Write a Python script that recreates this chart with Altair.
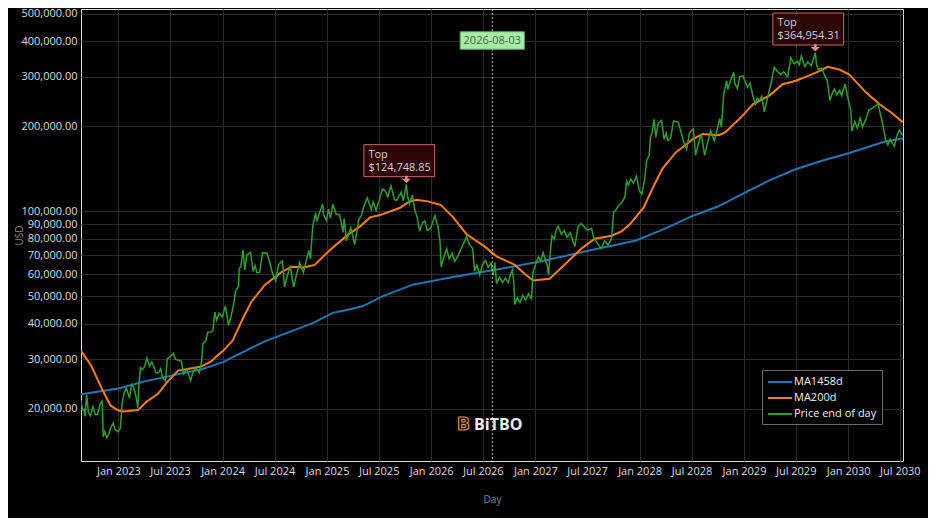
import altair as alt
import pandas as pd

# ---------------- data ----------------
price_2022 = [("2022-08-23", 21400), ("2022-08-28", 19800), ("2022-09-03", 19900), ("2022-09-06", 18800),
              ("2022-09-12", 22400), ("2022-09-18", 19400), ("2022-09-25", 18900), ("2022-10-04", 20300),
              ("2022-10-12", 19100), ("2022-10-20", 19100), ("2022-10-29", 20800), ("2022-11-05", 21300),
              ("2022-11-09", 15900), ("2022-11-14", 16600), ("2022-11-21", 15800), ("2022-11-28", 16200),
              ("2022-12-05", 17100), ("2022-12-14", 17800), ("2022-12-20", 16900), ("2022-12-31", 16550)]
price_2023 = [("2023-01-08", 17100), ("2023-01-14", 20900), ("2023-01-21", 22700), ("2023-01-29", 23700),
              ("2023-02-09", 21800), ("2023-02-16", 24400), ("2023-02-23", 23900), ("2023-03-03", 22300),
              ("2023-03-10", 20200), ("2023-03-14", 24300), ("2023-03-19", 28000), ("2023-03-26", 27500),
              ("2023-04-03", 28200), ("2023-04-11", 30300), ("2023-04-20", 28300), ("2023-04-28", 29300),
              ("2023-05-08", 27700), ("2023-05-12", 26800), ("2023-05-22", 26800), ("2023-05-29", 27700),
              ("2023-06-05", 25700), ("2023-06-15", 25100), ("2023-06-21", 30000), ("2023-07-01", 30600),
              ("2023-07-13", 31400), ("2023-07-20", 29900), ("2023-08-01", 29700), ("2023-08-10", 29400),
              ("2023-08-17", 26600), ("2023-08-29", 27700), ("2023-09-11", 25100), ("2023-09-20", 27200),
              ("2023-10-01", 27900), ("2023-10-12", 26800), ("2023-10-20", 29700), ("2023-10-24", 34000),
              ("2023-11-03", 34700), ("2023-11-10", 37300), ("2023-11-20", 37400), ("2023-11-28", 37800),
              ("2023-12-05", 44000), ("2023-12-11", 41200), ("2023-12-20", 43600), ("2023-12-31", 42300)]
price_2024 = [("2024-01-11", 46300), ("2024-01-22", 39500), ("2024-01-31", 42600), ("2024-02-09", 47100),
              ("2024-02-15", 51900), ("2024-02-26", 54500), ("2024-02-28", 62500), ("2024-03-05", 63800),
              ("2024-03-13", 73100), ("2024-03-19", 62000), ("2024-03-26", 70000), ("2024-04-08", 71600),
              ("2024-04-17", 61300), ("2024-04-24", 64300), ("2024-04-30", 60600), ("2024-05-10", 60800),
              ("2024-05-20", 71400), ("2024-06-05", 71100), ("2024-06-14", 66000), ("2024-06-24", 60300),
              ("2024-07-05", 56700), ("2024-07-15", 64800), ("2024-07-29", 66800), ("2024-08-05", 54000),
              ("2024-08-14", 58700), ("2024-08-25", 64200), ("2024-09-06", 53900), ("2024-09-15", 59200),
              ("2024-09-27", 65800), ("2024-10-10", 60600), ("2024-10-21", 67400), ("2024-10-29", 72700),
              ("2024-11-04", 67800), ("2024-11-12", 88700), ("2024-11-22", 98900), ("2024-11-26", 91900),
              ("2024-12-05", 98700), ("2024-12-17", 106100), ("2024-12-20", 97200), ("2024-12-30", 92800)]
price_2025 = [("2025-01-06", 102100), ("2025-01-13", 94500), ("2025-01-21", 106100), ("2025-02-02", 97600),
              ("2025-02-14", 97500), ("2025-02-26", 84300), ("2025-03-02", 94300), ("2025-03-10", 78600),
              ("2025-03-25", 87500), ("2025-04-08", 76300), ("2025-04-22", 93400), ("2025-05-01", 96500),
              ("2025-05-10", 104000), ("2025-05-22", 111700), ("2025-06-05", 101600), ("2025-06-12", 108000),
              ("2025-06-22", 100900), ("2025-07-03", 109600), ("2025-07-14", 119800), ("2025-07-24", 118300),
              ("2025-08-02", 112600), ("2025-08-13", 123300), ("2025-08-25", 110100), ("2025-09-01", 109200),
              ("2025-09-18", 117100), ("2025-09-25", 109000), ("2025-10-06", 124748.85), ("2025-10-10", 113200),
              ("2025-10-17", 106400), ("2025-10-27", 114100), ("2025-11-04", 101500), ("2025-11-14", 94500),
              ("2025-11-21", 85100), ("2025-12-02", 91300), ("2025-12-10", 92500), ("2025-12-18", 85500),
              ("2025-12-31", 87500)]
price_2026 = [("2026-01-14", 96600), ("2026-01-25", 88000), ("2026-02-01", 78000), ("2026-02-05", 63600),
              ("2026-02-12", 67500), ("2026-02-24", 73800), ("2026-03-05", 68000), ("2026-03-15", 71000),
              ("2026-03-25", 66500), ("2026-04-05", 69500), ("2026-04-16", 74000), ("2026-04-26", 77500),
              ("2026-05-05", 81500), ("2026-05-14", 76500), ("2026-05-26", 74000), ("2026-06-02", 61500),
              ("2026-06-10", 64500), ("2026-06-20", 59500), ("2026-06-30", 65000), ("2026-07-10", 67000),
              ("2026-07-20", 63500), ("2026-07-30", 65500), ("2026-08-06", 59500), ("2026-08-12", 66000),
              ("2026-08-18", 55500), ("2026-08-28", 58500), ("2026-09-08", 56000), ("2026-09-18", 58000),
              ("2026-09-28", 56000), ("2026-10-05", 59500), ("2026-10-12", 62000), ("2026-10-17", 57000),
              ("2026-10-21", 46800), ("2026-10-30", 49500), ("2026-11-08", 47500), ("2026-11-18", 50500),
              ("2026-11-28", 48500), ("2026-12-08", 51000), ("2026-12-18", 49000), ("2026-12-24", 61000)]
price_2027 = [("2027-01-02", 65000), ("2027-01-12", 69000), ("2027-01-20", 66500), ("2027-01-28", 71500),
              ("2027-02-06", 67000), ("2027-02-12", 64000), ("2027-02-16", 59500), ("2027-02-22", 71000),
              ("2027-02-28", 82000), ("2027-03-08", 79500), ("2027-03-15", 86000), ("2027-03-22", 88500),
              ("2027-04-02", 83000), ("2027-04-12", 85500), ("2027-04-22", 81000), ("2027-05-03", 84000),
              ("2027-05-12", 79000), ("2027-05-19", 75000), ("2027-05-30", 88000), ("2027-06-10", 90500),
              ("2027-06-20", 88500), ("2027-07-01", 86000), ("2027-07-17", 87000), ("2027-07-25", 80000),
              ("2027-08-05", 77500), ("2027-08-20", 73800), ("2027-09-01", 78500), ("2027-09-12", 76000),
              ("2027-09-25", 80000), ("2027-10-02", 99000), ("2027-10-10", 101000), ("2027-10-20", 105000),
              ("2027-11-01", 108000), ("2027-11-10", 112000), ("2027-11-17", 128000), ("2027-11-23", 124000),
              ("2027-12-01", 130000), ("2027-12-10", 126000), ("2027-12-21", 133000)]
price_2028 = [("2028-01-01", 118000), ("2028-01-09", 115000), ("2028-01-19", 130000), ("2028-01-26", 152000),
              ("2028-02-04", 158000), ("2028-02-08", 183000), ("2028-02-14", 190000), ("2028-02-21", 212000),
              ("2028-02-27", 183000), ("2028-03-06", 205000), ("2028-03-18", 210000), ("2028-03-27", 180000),
              ("2028-04-03", 189000), ("2028-04-09", 178000), ("2028-04-19", 182000), ("2028-04-29", 209000),
              ("2028-05-15", 207000), ("2028-05-24", 193000), ("2028-06-03", 177000), ("2028-06-14", 166000),
              ("2028-06-24", 190000), ("2028-07-08", 196000), ("2028-07-15", 158000), ("2028-07-24", 172000),
              ("2028-08-04", 188000), ("2028-08-16", 158000), ("2028-08-25", 173000), ("2028-09-06", 193000),
              ("2028-09-19", 178000), ("2028-09-30", 197000), ("2028-10-08", 213000), ("2028-10-14", 199000),
              ("2028-10-22", 260000), ("2028-11-01", 290000), ("2028-11-05", 270000), ("2028-11-14", 289000),
              ("2028-11-26", 311000), ("2028-11-29", 285000), ("2028-12-09", 272000), ("2028-12-17", 300000),
              ("2028-12-28", 302000)]
price_2029 = [("2029-01-04", 289000), ("2029-01-13", 275000), ("2029-01-22", 285000), ("2029-02-02", 254000),
              ("2029-02-10", 240000), ("2029-02-16", 252000), ("2029-02-25", 248000), ("2029-03-04", 256000),
              ("2029-03-13", 225000), ("2029-03-25", 254000), ("2029-04-05", 282000), ("2029-04-17", 324000),
              ("2029-04-28", 313000), ("2029-05-10", 305000), ("2029-05-20", 312000), ("2029-06-03", 300000),
              ("2029-06-14", 350000), ("2029-06-26", 333000), ("2029-07-07", 340000), ("2029-07-13", 330000),
              ("2029-07-21", 355000), ("2029-08-02", 326000), ("2029-08-12", 338000), ("2029-08-25", 328000),
              ("2029-09-08", 364954.31), ("2029-09-12", 330000), ("2029-09-18", 318000), ("2029-09-30", 322000),
              ("2029-10-05", 313000), ("2029-10-12", 300000), ("2029-10-20", 290000), ("2029-10-29", 247000),
              ("2029-11-06", 262000), ("2029-11-14", 271000), ("2029-11-22", 258000), ("2029-12-02", 268000),
              ("2029-12-09", 257000), ("2029-12-21", 282000)]
price_2030 = [("2030-01-02", 247000), ("2030-01-10", 228000), ("2030-01-14", 192000), ("2030-01-24", 208000),
              ("2030-02-02", 197000), ("2030-02-12", 214000), ("2030-02-20", 199000), ("2030-03-02", 210000),
              ("2030-03-14", 228000), ("2030-03-26", 232000), ("2030-04-06", 236000), ("2030-04-16", 240000),
              ("2030-04-24", 220000), ("2030-05-01", 206000), ("2030-05-12", 179000), ("2030-05-20", 172000),
              ("2030-05-28", 180000), ("2030-06-05", 174000), ("2030-06-12", 170000), ("2030-06-20", 184000),
              ("2030-06-29", 194000), ("2030-07-11", 186000)]

ma200 = [("2022-08-23", 32100), ("2022-09-28", 28400), ("2022-11-08", 23100), ("2022-12-05", 20500),
         ("2023-01-01", 19700), ("2023-01-20", 19550), ("2023-03-11", 19800), ("2023-04-10", 21200),
         ("2023-05-20", 22600), ("2023-06-20", 24800), ("2023-07-29", 27300), ("2023-09-05", 27700),
         ("2023-10-18", 28200), ("2023-11-22", 29400), ("2023-12-10", 30600), ("2024-01-02", 32000),
         ("2024-02-05", 34800), ("2024-03-08", 40900), ("2024-04-12", 48000), ("2024-05-29", 55000),
         ("2024-07-26", 61000), ("2024-08-30", 63700), ("2024-10-10", 63300), ("2024-11-19", 64600),
         ("2024-12-20", 69500), ("2025-01-17", 73800), ("2025-03-17", 83000), ("2025-04-27", 88500),
         ("2025-06-01", 95200), ("2025-07-06", 97000), ("2025-09-14", 103000), ("2025-10-13", 107800),
         ("2025-11-11", 110000), ("2025-12-20", 108500), ("2026-02-03", 105500), ("2026-03-20", 95000),
         ("2026-05-05", 83000), ("2026-07-08", 75000), ("2026-08-18", 69300), ("2026-10-21", 64600),
         ("2026-11-25", 60000), ("2026-12-24", 56900), ("2027-02-20", 57700), ("2027-04-25", 66400),
         ("2027-06-11", 73800), ("2027-07-28", 80000), ("2027-09-25", 82000), ("2027-10-30", 85000),
         ("2027-11-28", 90000), ("2028-01-15", 103000), ("2028-02-16", 121000), ("2028-03-22", 142000),
         ("2028-05-08", 162000), ("2028-07-05", 180000), ("2028-08-09", 188000), ("2028-10-06", 186000),
         ("2028-10-29", 191000), ("2028-11-29", 205000), ("2028-12-17", 213000), ("2029-02-02", 240000),
         ("2029-03-31", 257000), ("2029-05-16", 282000), ("2029-07-02", 290000), ("2029-08-18", 303000),
         ("2029-09-22", 314000), ("2029-10-21", 325000), ("2029-12-01", 318000), ("2030-01-05", 305000),
         ("2030-03-04", 264000), ("2030-04-20", 240000), ("2030-06-05", 222000), ("2030-07-11", 207000)]

ma1458 = [("2022-08-23", 22500), ("2023-01-01", 23600), ("2023-04-03", 25000), ("2023-07-06", 26200),
          ("2023-10-20", 27600), ("2024-01-05", 29300), ("2024-02-04", 30400), ("2024-06-01", 34800),
          ("2024-11-12", 40200), ("2025-01-21", 43700), ("2025-03-22", 45000), ("2025-05-05", 46100),
          ("2025-07-14", 50000), ("2025-10-28", 55000), ("2026-03-18", 58600), ("2026-08-24", 62400),
          ("2027-01-17", 66400), ("2027-07-13", 72800), ("2027-12-20", 78900), ("2028-04-01", 87000),
          ("2028-07-01", 96000), ("2028-10-01", 104000), ("2029-01-01", 116000), ("2029-04-01", 129000),
          ("2029-07-01", 141000), ("2029-10-01", 151000), ("2030-01-05", 161000), ("2030-05-12", 177000),
          ("2030-07-11", 181000)]

series_names = ["MA1458d", "MA200d", "Price end of day"]
series_colors = ["#1f77b4", "#ff7f0e", "#2ca02c"]

y_ticks = [20000, 30000, 40000, 50000, 60000, 70000, 80000, 90000, 100000, 200000, 300000, 400000, 500000]
x_tick_years = list(range(2023, 2031))

top_dates = ["2025-10-06", "2029-09-08"]
top_values = [124748.85, 364954.31]
marker_date = "2026-08-03"
brand = "BiTBO"

# ---------------- frames ----------------
def frame(pairs, name):
    return pd.DataFrame({"date": pd.to_datetime([d for d, _ in pairs]),
                         "value": [v for _, v in pairs],
                         "series": name})

price_df = frame(price_2022 + price_2023 + price_2024 + price_2025 + price_2026 +
                 price_2027 + price_2028 + price_2029 + price_2030, series_names[2])
ma200_df = frame(ma200, series_names[1])
ma1458_df = frame(ma1458, series_names[0])

top_df = pd.DataFrame({"date": pd.to_datetime(top_dates), "value": top_values,
                       "title": ["Top"] * len(top_dates),
                       "label": ["${:,.2f}".format(v) for v in top_values]})
marker_df = pd.DataFrame({"date": pd.to_datetime([marker_date]), "label": [marker_date]})
brand_df = pd.DataFrame({"icon": ["B"], "brand": [brand]})

FONT = "Open Sans"
PLOT_W, PLOT_H = 822, 452
PAD = {"left": 73, "top": 1, "right": 25, "bottom": 57}

x_enc = alt.X(
    "date:T",
    scale=alt.Scale(domain=[alt.DateTime(year=2022, month=8, date=23),
                            alt.DateTime(year=2030, month=7, date=12)]),
    axis=alt.Axis(
        values=[alt.DateTime(year=y, month=m, date=1) for y in x_tick_years for m in (1, 7)],
        format="%b %Y", title="Day", grid=True, gridColor="#2c2c2c", domain=False, ticks=False,
        labelColor="#dddddd", labelFont=FONT, labelFontSize=11, labelPadding=4,
        labelOverlap=False, labelFlush=False,
        titleColor="#888888", titleFont=FONT, titleFontSize=10, titleFontWeight="normal",
        titleX=PLOT_W / 2, titleY=38, titleBaseline="middle", titleAlign="center"),
)
y_enc = alt.Y(
    "value:Q",
    scale=alt.Scale(type="log", domain=[13059, 520800], nice=False),
    axis=alt.Axis(
        values=y_ticks, format=",.2f", title="USD", grid=True, gridColor="#2c2c2c",
        domain=False, ticks=False, labelColor="#dddddd", labelFont=FONT, labelFontSize=11,
        labelPadding=4, labelOverlap=False, labelFlush=False,
        titleColor="#888888", titleFont=FONT, titleFontSize=10, titleFontWeight="normal",
        titleX=-62, titleY=PLOT_H / 2, titleAngle=270, titleBaseline="middle", titleAlign="center"),
)
color_enc = alt.Color(
    "series:N", title=None,
    scale=alt.Scale(domain=series_names, range=series_colors),
    legend=alt.Legend(orient="none", legendX=681, legendY=361, direction="vertical",
                      fillColor="#000000", strokeColor="#6a6a6a", padding=5, rowPadding=4,
                      symbolType="M-2,0L2,0", symbolSize=144, symbolStrokeWidth=2,
                      symbolOffset=6, labelOffset=7, labelFont=FONT, labelFontSize=11,
                      labelColor="#eeeeee", labelLimit=300),
)


def line(df, width):
    return alt.Chart(df).mark_line(strokeWidth=width, clip=True).encode(
        x=x_enc, y=y_enc, color=color_enc)


blue = line(ma1458_df, 2)
orange = line(ma200_df, 2)
green = line(price_df, 1.5)

rule = alt.Chart(marker_df).mark_rule(color="#bdbdbd", strokeWidth=1, strokeDash=[2, 2]).encode(x=x_enc)
marker_box = alt.Chart(marker_df).mark_point(
    shape="M-0.804,-0.22L0.804,-0.22L0.804,0.22L-0.804,0.22Z", size=6400, filled=True,
    fill="#a3eea3", stroke="#5c9c5c", strokeWidth=1, opacity=1, fillOpacity=1
).encode(x=x_enc, y=alt.value(31.5))
marker_text = alt.Chart(marker_df).mark_text(
    font=FONT, fontSize=11, color="#555555", align="center", baseline="middle"
).encode(x=x_enc, y=alt.value(31.5), text="label:N")

top_box = alt.Chart(top_df).mark_point(
    shape="M-0.85,-0.792L0.566,-0.792L0.566,-0.152L-0.85,-0.152Z", size=10000, filled=True,
    fill="#2c0505", stroke="#c46a6a", strokeWidth=1, opacity=1, fillOpacity=1
).encode(x=x_enc, y=y_enc)
top_title = alt.Chart(top_df).mark_text(
    font=FONT, fontSize=11, color="#d6cccc", align="left", baseline="middle", dx=-38, dy=-29.6
).encode(x=x_enc, y=y_enc, text="title:N")
top_label = alt.Chart(top_df).mark_text(
    font=FONT, fontSize=11, color="#d6cccc", align="left", baseline="middle", dx=-38, dy=-16.6
).encode(x=x_enc, y=y_enc, text="label:N")
top_arrow = alt.Chart(top_df).mark_point(
    shape="M-0.12,-0.85L0.12,-0.85L0.12,-0.55L0.45,-0.55L0,-0.12L-0.45,-0.55L-0.12,-0.55Z",
    size=400, filled=True, fill="#f08c8c", strokeWidth=0, opacity=1, fillOpacity=1
).encode(x=x_enc, y=y_enc)

logo_icon = alt.Chart(brand_df).mark_text(
    font="DejaVu Sans", fontWeight="bold", fontSize=17, fill="#000000", stroke="#d99a30",
    strokeWidth=1.2, align="center", baseline="middle"
).encode(x=alt.value(382.5), y=alt.value(415.5), text="icon:N")
logo_text = alt.Chart(brand_df).mark_text(
    font=FONT, fontWeight="bold", fontSize=16, color="#eeeeee", align="left", baseline="middle"
).encode(x=alt.value(393), y=alt.value(415.5), text="brand:N")

chart = alt.layer(
    blue, orange, green, rule, marker_box, marker_text,
    top_box, top_arrow, top_title, top_label, logo_icon, logo_text
).properties(
    width=PLOT_W, height=PLOT_H, background="#000000",
    padding=PAD,
    autosize=alt.AutoSizeParams(type="none"),
).configure_view(stroke="transparent").configure(font=FONT)

chart.save("out.html", embed_options={"renderer": "svg", "actions": False})
